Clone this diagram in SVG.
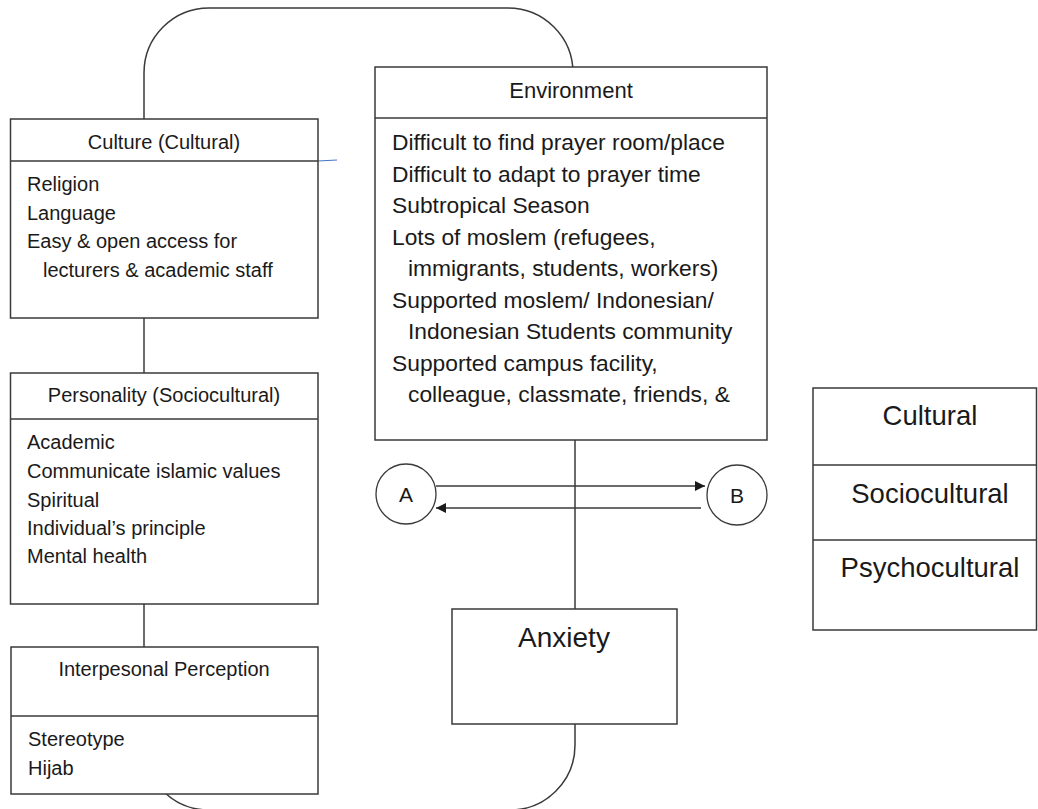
<svg xmlns="http://www.w3.org/2000/svg" width="1038" height="809" viewBox="0 0 1038 809">
<style>
.box{fill:#fff;stroke:#3a3a3a;stroke-width:1.5}
.ln{fill:none;stroke:#3a3a3a;stroke-width:1.5}
text{font-family:"Liberation Sans",Arial,sans-serif;fill:#1a1a1a}
.hd{font-size:20px;text-anchor:middle}
.bd{font-size:20px}
.eb{font-size:22.8px}
.lg{font-size:27.5px;text-anchor:middle}
.cir{fill:#fff;stroke:#3a3a3a;stroke-width:1.3}
</style>
<defs>
<marker id="ah" viewBox="0 0 10 10" refX="10" refY="5" markerWidth="10" markerHeight="10" markerUnits="userSpaceOnUse" orient="auto">
<path d="M0,0 L10,5 L0,10 z" fill="#1a1a1a"/>
</marker>
</defs>
<g id="connectors">
<path class="ln" d="M144,119 V73 A65,65 0 0 1 209,8 H508 A65,65 0 0 1 573,73"/>
<path class="ln" d="M144,318 V373"/>
<path class="ln" d="M144,604 V647"/>
<path class="ln" d="M144,760 V745 A65,65 0 0 0 209,810 H510 A65,65 0 0 0 575,745 V724"/>
<path class="ln" d="M575,440 V609"/>
<path d="M318,161 L337,160" fill="none" stroke="#4472C4" stroke-width="1"/>
<path class="ln" d="M436,486 H705" marker-end="url(#ah)" style="stroke-width:1.3"/>
<path class="ln" d="M701,508 H436" marker-end="url(#ah)" style="stroke-width:1.3"/>
</g>
<g id="culture">
<rect class="box" x="10.5" y="119" width="307.5" height="199"/>
<path class="ln" d="M10.5,161 H318"/>
<text class="hd" x="164" y="149">Culture (Cultural)</text>
<text class="bd" x="27" y="191">Religion</text>
<text class="bd" x="27" y="219.5">Language</text>
<text class="bd" x="27" y="248">Easy &amp; open access for</text>
<text class="bd" x="43" y="277">lecturers &amp; academic staff</text>
</g>
<g id="personality">
<rect class="box" x="10.5" y="373" width="307.5" height="231"/>
<path class="ln" d="M10.5,419 H318"/>
<text class="hd" x="164" y="402">Personality (Sociocultural)</text>
<text class="bd" x="27" y="449">Academic</text>
<text class="bd" x="27" y="478">Communicate islamic values</text>
<text class="bd" x="27" y="507">Spiritual</text>
<text class="bd" x="27" y="535">Individual’s principle</text>
<text class="bd" x="27" y="563">Mental health</text>
</g>
<g id="interpersonal">
<rect class="box" x="11" y="647" width="307" height="147"/>
<path class="ln" d="M11,716 H318"/>
<text class="hd" x="164" y="676">Interpesonal Perception</text>
<text class="bd" x="28" y="746">Stereotype</text>
<text class="bd" x="28" y="775">Hijab</text>
</g>
<g id="environment">
<rect class="box" x="375" y="67" width="392" height="373"/>
<path class="ln" d="M375,118 H767"/>
<text class="hd" x="571" y="98" style="font-size:22px">Environment</text>
<text class="eb" x="392" y="150">Difficult to find prayer room/place</text>
<text class="eb" x="392" y="181.5">Difficult to adapt to prayer time</text>
<text class="eb" x="392" y="213">Subtropical Season</text>
<text class="eb" x="392" y="244.5">Lots of moslem (refugees,</text>
<text class="eb" x="408" y="276">immigrants, students, workers)</text>
<text class="eb" x="392" y="307.5">Supported moslem/ Indonesian/</text>
<text class="eb" x="408" y="339">Indonesian Students community</text>
<text class="eb" x="392" y="370.5">Supported campus facility,</text>
<text class="eb" x="408" y="402">colleague, classmate, friends, &amp;</text>
</g>
<g id="nodeA">
<circle class="cir" cx="406" cy="494" r="30"/>
<text x="406" y="502" style="font-size:21px;text-anchor:middle">A</text>
</g>
<g id="nodeB">
<circle class="cir" cx="737" cy="495" r="30"/>
<text x="737" y="503" style="font-size:21px;text-anchor:middle">B</text>
</g>
<g id="anxiety">
<rect class="box" x="452" y="609" width="225" height="115"/>
<text x="564" y="647" style="font-size:28px;text-anchor:middle">Anxiety</text>
</g>
<g id="legend">
<rect class="box" x="813" y="388" width="223.5" height="242"/>
<path class="ln" d="M813,465 H1036.5 M813,540 H1036.5"/>
<text class="lg" x="930" y="425">Cultural</text>
<text class="lg" x="930" y="503">Sociocultural</text>
<text class="lg" x="930" y="577">Psychocultural</text>
</g>
</svg>
